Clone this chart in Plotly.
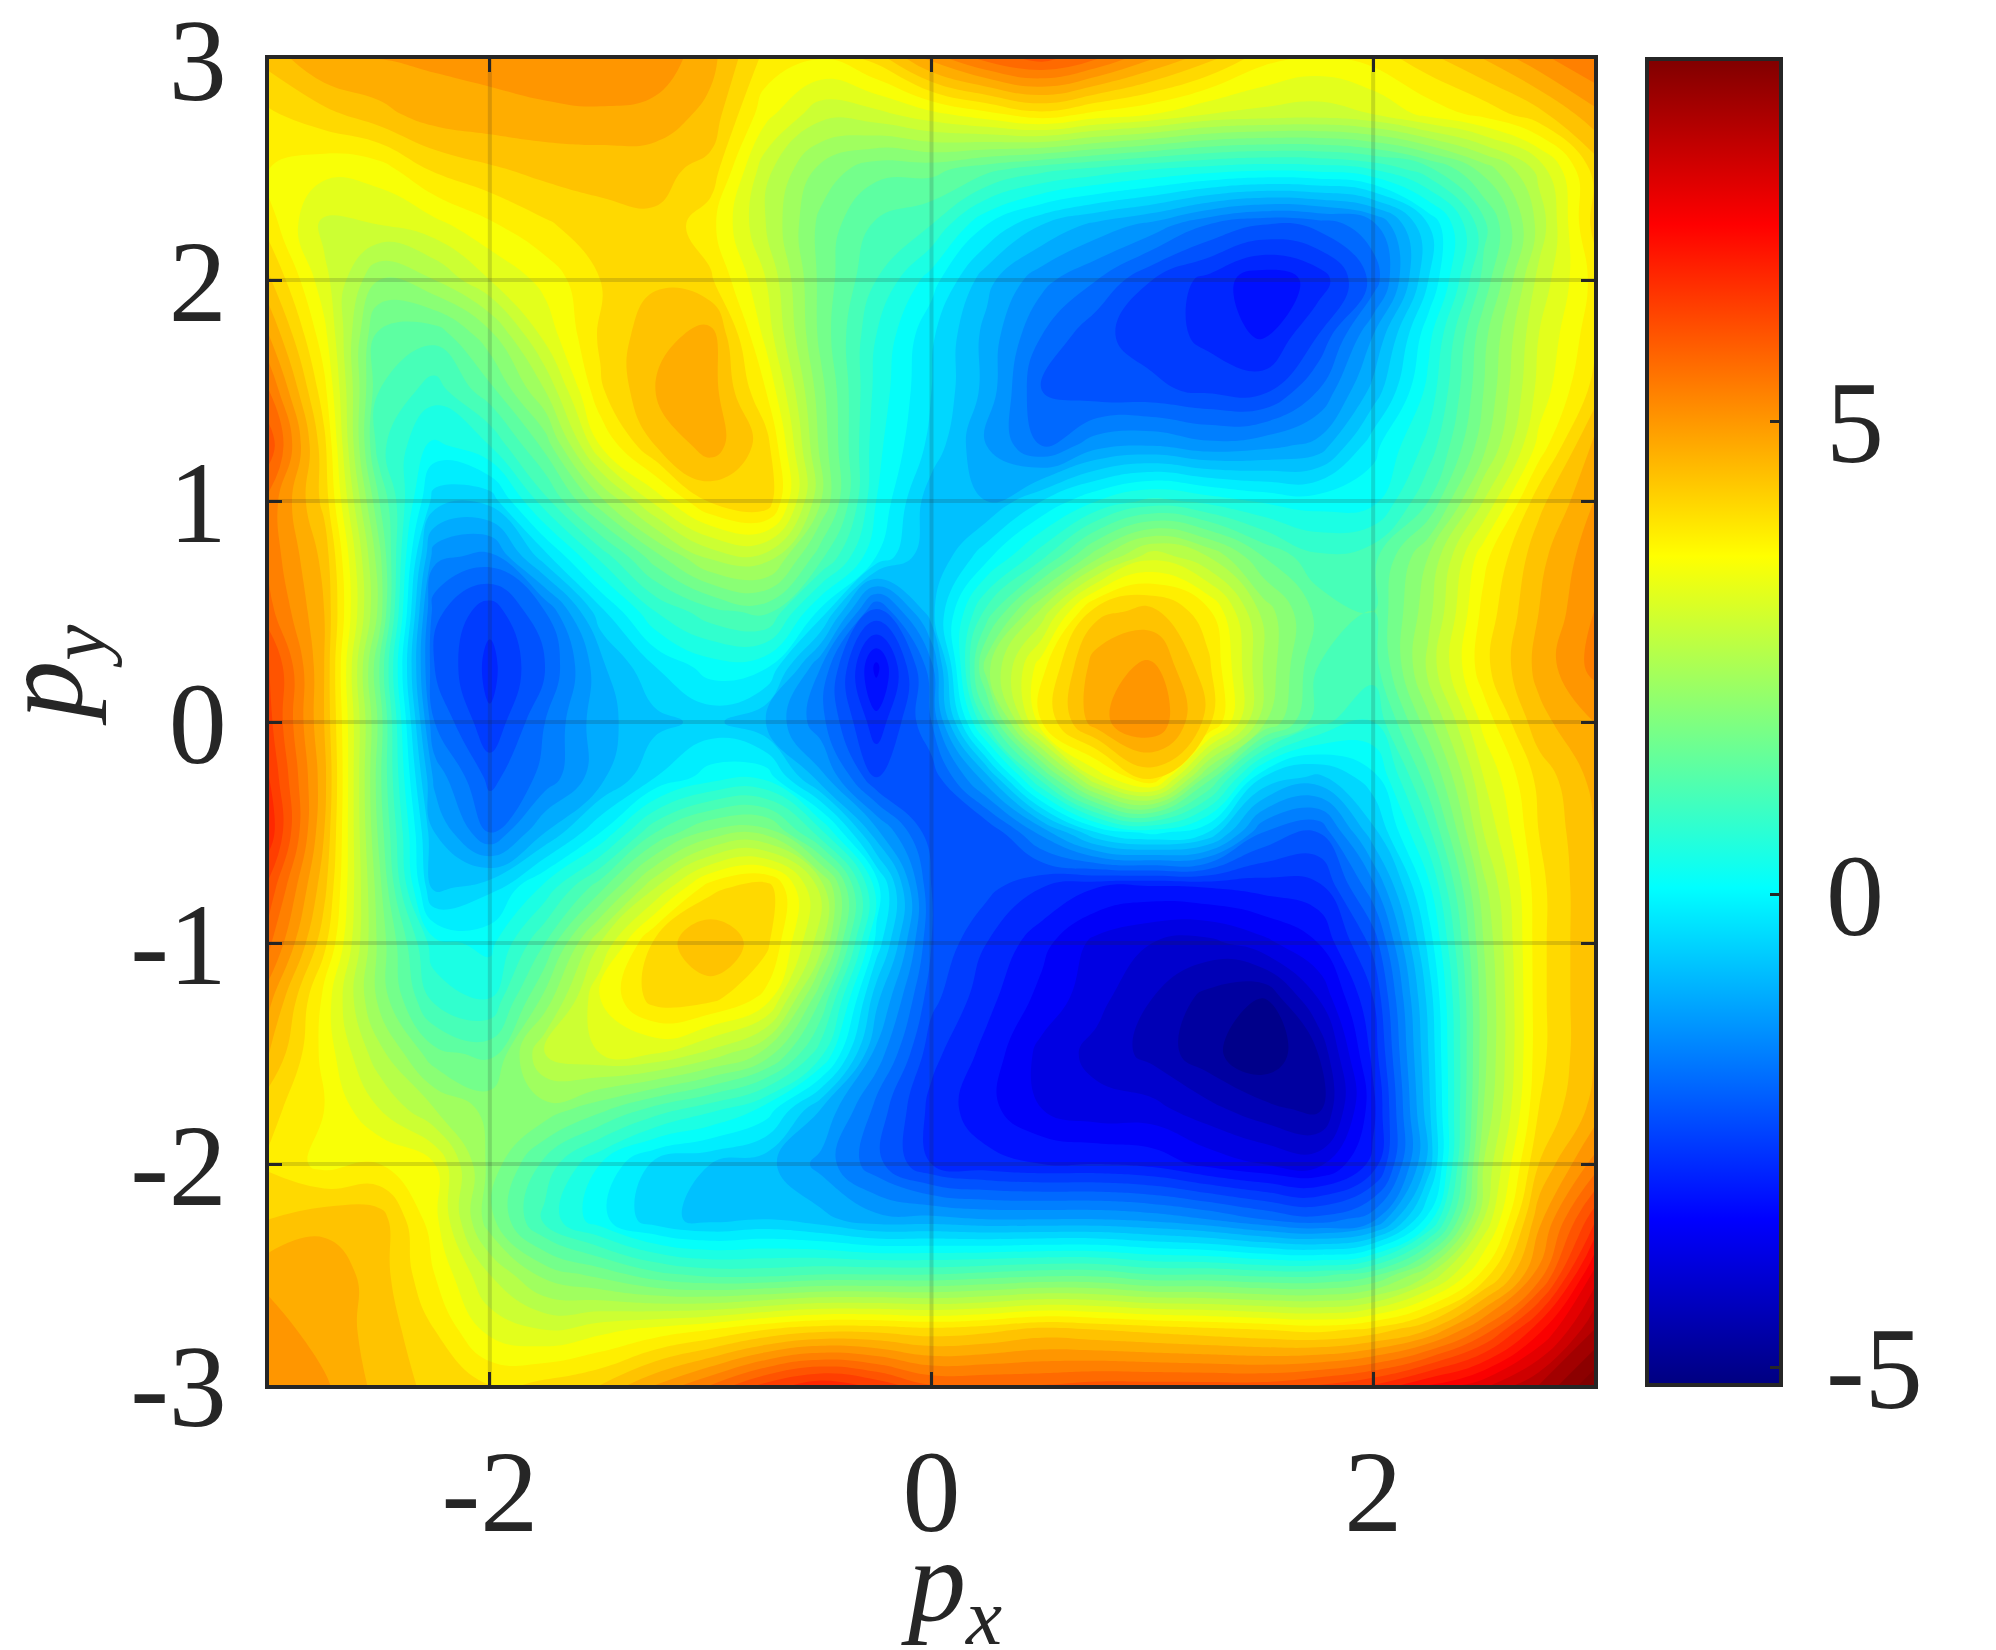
import plotly.graph_objects as go

px = [-3, -2.75, -2.5, -2.25, -2, -1.75, -1.5, -1.25, -1, -0.75, -0.5, -0.25, 0,
      0.25, 0.5, 0.75, 1, 1.25, 1.5, 1.75, 2, 2.25, 2.5, 2.75, 3]
py = [3, 2.75, 2.5, 2.25, 2, 1.75, 1.5, 1.25, 1, 0.75, 0.5, 0.25, 0,
      -0.25, -0.5, -0.75, -1, -1.25, -1.5, -1.75, -2, -2.25, -2.5, -2.75, -3]

# values, one row per py, top row first
energy = [
    [4.2, 4.7, 4.7, 4.75, 4.8, 5.0, 5.0, 4.9, 4.5, 3.7, 3.5, 3.9, 4.8, 5.4, 5.7, 5.3, 4.7, 4.2, 3.6, 3.4, 3.6, 4.0, 4.4, 4.9, 5.3],
    [3.75, 4.0, 4.3, 4.55, 4.6, 4.6, 4.65, 4.6, 4.3, 3.3, 2.7, 2.8, 3.1, 3.4, 3.7, 3.4, 3.2, 2.9, 2.8, 2.75, 2.9, 3.3, 3.6, 4.0, 4.6],
    [3.5, 3.3, 3.35, 3.85, 4.05, 4.2, 4.2, 4.2, 4.0, 2.7, 1.9, 1.5, 1.5, 1.2, 0.9, 0.7, 0.5, 0.35, 0.25, 0.3, 0.5, 1.0, 1.8, 2.7, 3.9],
    [3.65, 2.8, 2.9, 3.1, 3.45, 3.75, 4.0, 4.05, 3.6, 2.6, 1.6, 1.05, 0.8, -0.1, -0.7, -1.1, -1.4, -1.9, -2.2, -2.1, -1.7, -0.4, 1.0, 2.4, 3.9],
    [4.15, 3.0, 2.0, 2.3, 2.9, 3.3, 3.8, 4.05, 3.85, 2.9, 1.6, 0.8, 0.05, -0.9, -1.5, -1.9, -2.5, -2.9, -3.3, -3.0, -2.1, -0.4, 1.2, 2.7, 3.6],
    [4.7, 3.3, 1.3, 1.2, 1.9, 3.0, 3.85, 4.3, 4.5, 3.1, 1.6, 0.5, -0.35, -1.1, -1.9, -2.45, -2.6, -2.9, -3.15, -2.5, -1.3, 0.1, 1.6, 2.9, 3.7],
    [5.3, 3.6, 1.1, 0.65, 1.3, 2.3, 3.75, 4.4, 4.55, 3.5, 1.8, 0.4, -0.4, -1.1, -2.2, -2.4, -2.45, -2.55, -2.6, -1.9, -0.9, 0.3, 1.7, 3.0, 3.9],
    [5.8, 3.9, 0.9, 0.1, 0.5, 1.5, 3.2, 4.1, 4.55, 3.95, 1.9, 0.3, -0.5, -1.3, -1.9, -1.4, -1.3, -1.5, -1.4, -1.2, -0.2, 0.6, 1.9, 3.3, 4.5],
    [5.2, 4.0, 1.4, -0.55, -0.6, 0.7, 1.9, 3.0, 3.85, 4.05, 2.0, 0.2, -0.9, -1.0, -0.4, 0.2, 0.6, 0.4, 0.15, 0.05, 0.1, 1.1, 2.6, 4.0, 4.7],
    [5.2, 4.3, 1.8, -1.5, -1.7, -0.5, 0.6, 1.6, 2.4, 2.5, 1.2, -0.1, -1.0, -0.2, 0.7, 1.9, 2.8, 2.3, 1.4, 0.85, 1.0, 2.0, 3.4, 4.3, 4.9],
    [5.4, 4.4, 1.9, -2.1, -2.7, -1.9, -0.5, 0.5, 1.0, 1.2, -0.2, -2.3, -0.8, 0.9, 2.4, 4.0, 4.2, 3.6, 2.2, 1.3, 1.1, 2.2, 3.6, 4.4, 5.0],
    [6.0, 4.4, 1.4, -2.2, -2.9, -2.2, -1.1, -0.4, 0.05, -0.05, -1.6, -3.5, -1.7, 1.9, 3.4, 4.6, 4.75, 3.9, 2.3, 1.1, 0.95, 2.4, 3.7, 4.5, 5.1],
    [6.0, 4.4, 1.6, -1.9, -2.75, -1.9, -1.1, -0.8, -0.6, -1.0, -1.8, -3.0, -1.9, 0.9, 3.5, 4.6, 5.0, 4.0, 2.1, 0.9, 0.5, 1.9, 3.3, 4.3, 4.7],
    [6.2, 4.5, 1.5, -1.4, -2.3, -1.8, -1.1, -0.4, 0.05, 0.1, -1.2, -2.5, -2.4, -1.1, 1.0, 3.0, 3.9, 1.6, -0.4, -0.8, -0.2, 1.3, 2.9, 3.9, 4.5],
    [6.4, 4.4, 1.6, -1.0, -1.9, -1.0, -0.1, 1.1, 1.8, 1.9, 0.6, -1.2, -2.4, -2.5, -1.5, -0.4, 0.0, -0.4, -1.9, -2.2, -0.8, 0.7, 2.6, 3.8, 4.4],
    [5.8, 4.2, 1.8, -0.8, -0.5, 0.3, 1.3, 2.6, 3.7, 4.0, 2.5, 0.1, -2.2, -2.4, -2.8, -3.1, -3.2, -3.1, -3.0, -2.9, -1.7, 0.1, 2.2, 3.7, 4.4],
    [5.4, 3.9, 1.9, 0.3, 0.1, 1.1, 2.6, 3.9, 4.4, 3.9, 2.4, -0.2, -2.2, -2.8, -3.3, -3.8, -4.0, -4.1, -3.8, -3.4, -2.4, -0.3, 2.0, 3.7, 4.4],
    [4.8, 3.4, 1.9, 0.7, 0.5, 1.8, 3.2, 3.95, 3.9, 3.4, 1.4, -0.9, -2.4, -3.0, -3.5, -3.9, -4.3, -4.7, -4.9, -4.0, -2.8, -0.6, 1.9, 3.7, 4.4],
    [4.4, 3.4, 2.4, 1.5, 1.3, 2.6, 2.9, 2.9, 2.5, 1.9, 0.6, -1.4, -2.7, -3.2, -3.8, -4.1, -4.4, -4.8, -5.15, -4.6, -3.0, -0.7, 1.9, 3.7, 4.4],
    [3.9, 3.5, 2.9, 2.3, 1.9, 1.9, 1.5, 1.0, 0.6, 0.1, -1.0, -2.0, -2.9, -3.3, -3.7, -3.9, -3.9, -4.2, -4.5, -4.7, -3.2, -0.8, 2.0, 3.8, 4.5],
    [3.75, 3.4, 3.5, 3.2, 1.9, 1.0, 0.2, -0.5, -0.7, -0.9, -1.4, -2.1, -2.8, -3.0, -3.1, -3.1, -3.2, -3.5, -3.7, -3.8, -3.0, -0.9, 2.3, 4.1, 5.1],
    [4.1, 4.3, 4.25, 3.3, 1.8, 0.7, 0.0, -0.6, -0.8, -0.7, -0.9, -1.2, -1.2, -1.3, -1.3, -1.3, -1.4, -1.6, -1.9, -2.1, -1.7, 0.0, 2.6, 4.6, 6.1],
    [4.6, 4.6, 4.25, 3.5, 2.6, 1.9, 1.6, 1.2, 1.0, 1.0, 1.1, 1.1, 1.1, 1.2, 1.3, 1.3, 1.1, 1.1, 1.0, 1.0, 1.3, 2.3, 3.6, 5.1, 7.2],
    [4.85, 4.55, 4.3, 3.8, 3.1, 2.9, 3.1, 3.3, 3.5, 3.8, 4.0, 4.0, 3.9, 4.0, 4.2, 4.1, 4.0, 3.9, 3.8, 3.7, 3.9, 4.4, 5.4, 6.7, 8.0],
    [4.85, 4.75, 4.3, 4.0, 3.8, 3.9, 4.1, 4.7, 5.3, 6.0, 6.4, 6.1, 5.6, 5.6, 5.6, 5.7, 5.7, 5.7, 5.7, 5.9, 6.2, 6.8, 7.3, 8.0, 8.83],
]

x_ticks = [-2, 0, 2]
x_labels = ["-2", "0", "2"]
y_ticks = [-3, -2, -1, 0, 1, 2, 3]
y_labels = ["-3", "-2", "-1", "0", "1", "2", "3"]
cbar_ticks = [-5, 0, 5]
cbar_labels = ["\u200a\u200a-5", "\u200a\u200a0", "\u200a\u200a5"]

jet = [
    [0, "rgb(0,0,128)"],
    [0.125, "rgb(0,0,255)"],
    [0.375, "rgb(0,255,255)"],
    [0.625, "rgb(255,255,0)"],
    [0.875, "rgb(255,0,0)"],
    [1, "rgb(128,0,0)"],
]

ink = "#262626"
serif = "Liberation Serif"
z_lo, z_hi = -5.19, 8.83

fig = go.Figure()
# heatmap sits under the contours, it only gives the smooth colorbar
fig.add_trace(go.Heatmap(
    x=px, y=py, z=energy,
    colorscale=jet, zmin=z_lo, zmax=z_hi,
    colorbar=dict(
        xref="container", x=1647 / 1996, xanchor="left", xpad=0, ypad=0,
        yref="paper", y=0.5, yanchor="middle", lenmode="fraction", len=1,
        thicknessmode="pixels", thickness=134,
        outlinecolor=ink, outlinewidth=4, bordercolor="rgba(0,0,0,0)",
        tickmode="array", tickvals=cbar_ticks, ticktext=cbar_labels,
        ticks="inside", ticklen=13, tickwidth=3, tickcolor=ink,
        tickfont=dict(family=serif, size=116, color=ink),
    ),
))
fig.add_trace(go.Contour(
    x=px, y=py, z=energy,
    colorscale=jet, zmin=z_lo, zmax=z_hi, showscale=False,
    contours=dict(start=-5.2, end=8.8, size=0.3, coloring="fill", showlines=False),
    line=dict(width=0, smoothing=1.3),
))

for v in x_ticks:
    fig.add_vline(x=v, line=dict(color="rgba(38,38,38,0.17)", width=4))
for v in y_ticks[1:-1]:
    fig.add_hline(y=v, line=dict(color="rgba(38,38,38,0.17)", width=4))

axis_style = dict(
    showgrid=False, zeroline=False, showline=True, linecolor=ink, linewidth=4,
    mirror="ticks", ticks="inside", ticklen=13, tickwidth=3, tickcolor=ink,
    tickfont=dict(family=serif, size=116, color=ink),
    tickmode="array", automargin=False, range=[-3, 3], ticklabeloverflow="allow",
)
fig.update_xaxes(tickvals=x_ticks, ticktext=x_labels, ticklabelstandoff=3, **axis_style)
fig.update_yaxes(tickvals=y_ticks, ticktext=y_labels, ticklabelstandoff=15, **axis_style)

fig.add_annotation(
    text="<i>p</i><sub><i>x</i></sub>", xref="paper", yref="paper",
    x=0.515, y=-0.154, xanchor="center", yanchor="middle", showarrow=False,
    font=dict(family=serif, size=116, color=ink),
)
fig.add_annotation(
    text="<i>p</i><sub><i>y</i></sub>", xref="paper", yref="paper",
    x=-0.165, y=0.536, xanchor="center", yanchor="middle", showarrow=False,
    textangle=-90, font=dict(family=serif, size=116, color=ink),
)

fig.update_layout(
    width=1996, height=1650,
    margin=dict(l=269, r=402, t=59, b=265, pad=0, autoexpand=False),
    paper_bgcolor="white", plot_bgcolor="white",
    showlegend=False,
)

fig.write_html("out.html", config={"displayModeBar": False},
               post_script="document.body.style.margin='0';")
